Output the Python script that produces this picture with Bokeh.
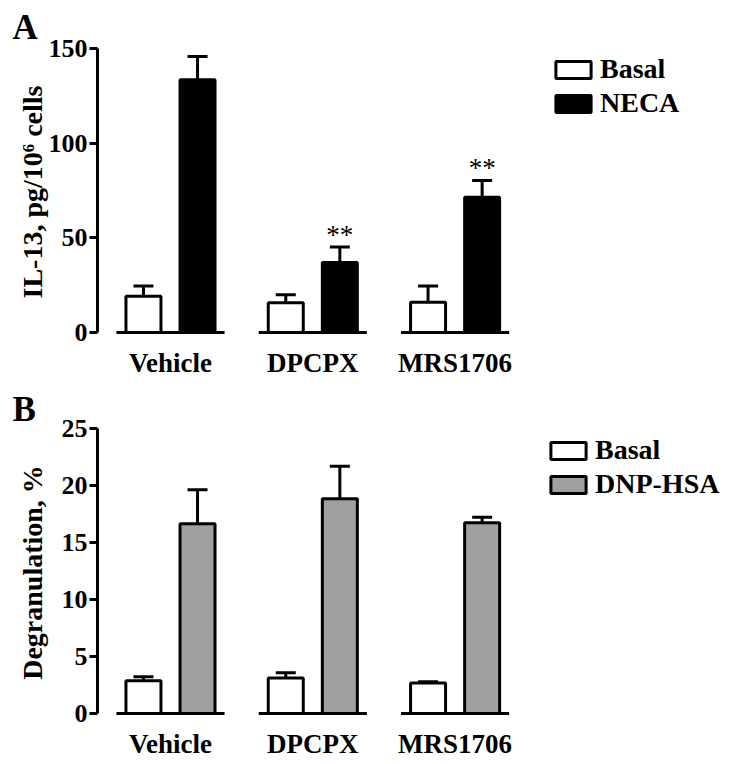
from bokeh.plotting import figure
from bokeh.models import (Range1d, FixedTicker, ColumnDataSource, Whisker, TeeHead,
                          Legend, LegendItem, Title)
from bokeh.layouts import column
from bokeh.embed import file_html
from bokeh.resources import INLINE
from bokeh.core.properties import value

# ---------------- data ----------------
groups = ["Vehicle", "DPCPX", "MRS1706"]

a_basal = [19.2, 15.7, 16.0]
a_basal_err = [5.3, 4.2, 8.5]
a_neca = [133.5, 37.0, 71.5]
a_neca_err = [12.3, 8.1, 8.8]
a_sig = ["", "**", "**"]
a_ticks = [0, 50, 100, 150]

b_basal = [2.87, 3.11, 2.67]
b_basal_err = [0.35, 0.47, 0.12]
b_dnp = [16.64, 18.84, 16.73]
b_dnp_err = [2.99, 2.84, 0.49]
b_sig = ["", "", ""]
b_ticks = [0, 5, 10, 15, 20, 25]

FONT = "Liberation Serif"
OFFSET = 0.19
BAR_W = 0.246
BASE_HALF = 0.38
FIG_W = 729
LEFT = 97
PX_PER_GROUP = 142.3


def make_panel(letter, y_max, ticks, y_label, basal, basal_err, treat, treat_err,
               treat_label, treat_color, sig, height, top, bottom, legend_xy,
               title_standoff, label_standoff):
    pad_px = 3
    frame_px = height - top - bottom
    pad = pad_px * y_max / (frame_px - pad_px)
    x0 = -0.513
    x1 = x0 + (FIG_W - LEFT) / PX_PER_GROUP
    p = figure(width=FIG_W, height=height,
               x_range=Range1d(x0, x1), y_range=Range1d(-pad, y_max),
               output_backend="svg", toolbar_location=None,
               min_border_left=LEFT, min_border_right=0,
               min_border_top=top, min_border_bottom=bottom)
    p.outline_line_color = None
    p.grid.visible = False
    p.background_fill_color = "white"

    p.title = Title(text=letter, text_font=FONT, text_font_style="bold",
                    text_font_size="35px", text_color="black", align="left",
                    offset=-85, standoff=title_standoff)

    pos = list(range(len(groups)))
    xb = [g - OFFSET for g in pos]
    xt = [g + OFFSET for g in pos]

    # separate baseline under each group
    p.segment(x0=[g - BASE_HALF for g in pos], x1=[g + BASE_HALF for g in pos],
              y0=[0] * len(pos), y1=[0] * len(pos),
              line_color="black", line_width=3)

    src_b = ColumnDataSource(dict(x=xb, top=basal,
                                  upper=[v + e for v, e in zip(basal, basal_err)]))
    src_t = ColumnDataSource(dict(x=xt, top=treat,
                                  upper=[v + e for v, e in zip(treat, treat_err)],
                                  sig=sig))
    for src in (src_b, src_t):
        w = Whisker(source=src, base="x", upper="upper", lower="top",
                    upper_head=TeeHead(size=20, line_width=3, line_color="black"),
                    lower_head=None, line_width=3, line_color="black")
        p.add_layout(w)

    rb = p.vbar(x="x", top="top", bottom=0, width=BAR_W, source=src_b,
                fill_color="white", line_color="black", line_width=3)
    rt = p.vbar(x="x", top="top", bottom=0, width=BAR_W, source=src_t,
                fill_color=treat_color, line_color="black", line_width=3)

    p.text(x="x", y="upper", text="sig", source=src_t, text_align="center",
           text_baseline="alphabetic", y_offset=-12, text_font=value(FONT),
           text_font_size="27px", text_color="black")

    legend = Legend(items=[LegendItem(label="Basal", renderers=[rb]),
                           LegendItem(label=treat_label, renderers=[rt])],
                    location=legend_xy, padding=0, margin=0, spacing=0,
                    glyph_width=44, glyph_height=21, label_height=34,
                    label_standoff=5, label_text_font=FONT,
                    label_text_font_style="bold", label_text_color="black",
                    label_text_font_size="28px", border_line_color=None,
                    background_fill_alpha=0)
    p.add_layout(legend, "center")

    ya = p.yaxis[0]
    ya.ticker = FixedTicker(ticks=ticks)
    ya.bounds = (0, y_max)
    ya.axis_line_width = 3
    ya.major_tick_line_width = 3
    ya.major_tick_out = 8
    ya.major_tick_in = 0
    ya.minor_tick_out = 0
    ya.minor_tick_in = 0
    ya.major_label_standoff = 2
    ya.major_label_text_font = FONT
    ya.major_label_text_font_style = "bold"
    ya.major_label_text_font_size = "26px"
    ya.major_label_text_color = "black"
    ya.axis_label = y_label
    ya.axis_label_text_font = FONT
    ya.axis_label_text_font_style = "bold"
    ya.axis_label_text_font_size = "28px"
    ya.axis_label_text_color = "black"
    ya.axis_label_standoff = label_standoff

    xa = p.xaxis[0]
    xa.ticker = FixedTicker(ticks=pos)
    xa.major_label_overrides = {i: g for i, g in zip(pos, groups)}
    xa.axis_line_color = None
    xa.major_tick_line_color = None
    xa.minor_tick_line_color = None
    xa.major_label_standoff = 6
    xa.major_label_text_font = FONT
    xa.major_label_text_font_style = "bold"
    xa.major_label_text_font_size = "27px"
    xa.major_label_text_color = "black"
    return p


pA = make_panel("A", 150, a_ticks, "IL-13, pg/10\u2076 cells", a_basal, a_basal_err,
                a_neca, a_neca_err, "NECA", "black", a_sig,
                height=380, top=48, bottom=45, legend_xy=(454, 215),
                title_standoff=3, label_standoff=-2)
pB = make_panel("B", 25, b_ticks, "Degranulation, %", b_basal, b_basal_err,
                b_dnp, b_dnp_err, "DNP-HSA", "#a0a0a0", b_sig,
                height=384, top=48, bottom=48, legend_xy=(449, 215),
                title_standoff=0, label_standoff=11)

layout = column(pA, pB, spacing=0)
open("out.html", "w").write(file_html(layout, INLINE))
